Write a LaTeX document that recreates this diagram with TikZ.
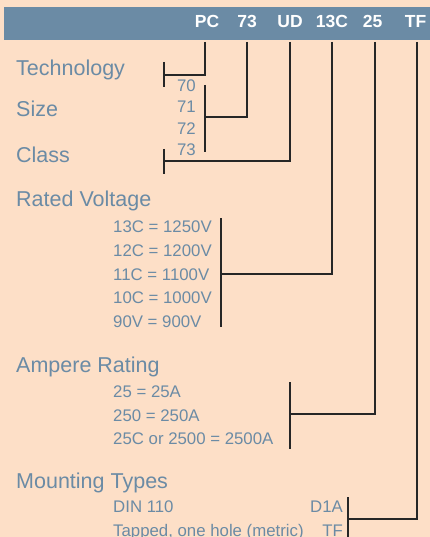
\documentclass[tikz,border=0pt]{standalone}
\usepackage{fontspec}
\setmainfont{Liberation Sans}
\usetikzlibrary{positioning}
\definecolor{peach}{RGB}{253,223,199}
\definecolor{slate}{RGB}{107,139,165}
\tikzset{
	grouptxt/.style={anchor=base west, inner sep=0pt, text=slate, font=\fontsize{21.5}{24}\selectfont},
	itemtxt/.style={anchor=base west, inner sep=0pt, text=slate, font=\fontsize{16.8}{20}\selectfont},
	itemend/.style={itemtxt, anchor=base east},
	codetxt/.style={anchor=base, inner sep=0pt, text=white, font=\bfseries\fontsize{17.5}{20}\selectfont},
	wire/.style={line width=1.3pt, draw=black!85},
}
\begin{document}
\begin{tikzpicture}[x=1pt, y=-1pt]
	\fill[peach] (0,0) rectangle (430,537);
	\useasboundingbox (0,0) rectangle (430,537);
	\fill[slate] (4,7) rectangle (430,40);
	% part number codes
	\node[codetxt] (pc) at (207,28) {PC};
	\node[codetxt] (sz) at (247,28) {73};
	\node[codetxt] (ud) at (290,28) {UD};
	\node[codetxt] (rv) at (332,28) {13C};
	\node[codetxt] (ar) at (372.5,28) {25};
	\node[codetxt] (mt) at (415.5,28) {TF};
	% groups
	\node[grouptxt] (tech) at (16,76) {Technology};
	\node[grouptxt] (size) at (16,117) {Size};
	\node[grouptxt] (class) at (16,163) {Class};
	\node[grouptxt] (volt) at (16,207) {Rated Voltage};
	\node[grouptxt] (amp) at (16,372) {Ampere Rating};
	\node[grouptxt] (mount) at (16,488) {Mounting Types};
	% items
	\node[itemend] (s70) at (196,92) {70};
	\node[itemend] (s71) at (196,113) {71};
	\node[itemend] (s72) at (196,135) {72};
	\node[itemend] (s73) at (196,156) {73};
	\node[itemtxt] (v13) at (113,232) {13C = 1250V};
	\node[itemtxt] (v12) at (113,256) {12C = 1200V};
	\node[itemtxt] (v11) at (113,280) {11C = 1100V};
	\node[itemtxt] (v10) at (113,303) {10C = 1000V};
	\node[itemtxt] (v90) at (113,327) {90V = 900V};
	\node[itemtxt] (a25) at (113,397) {25 = 25A};
	\node[itemtxt] (a250) at (113,421) {250 = 250A};
	\node[itemtxt] (a2500) at (113,444) {25C or 2500 = 2500A};
	\node[itemtxt] (din) at (113,512) {DIN 110};
	\node[itemend] (d1a) at (343,512) {D1A};
	\node[itemtxt] (tap) at (113,536) {Tapped, one hole (metric)};
	\node[itemend] (tf) at (343,536) {TF};
	% bracket ends and junctions
	\coordinate (pc in) at (205,42);  \coordinate (tech j) at (164,75);
	\coordinate (tech a) at (164,62); \coordinate (tech b) at (164,87);
	\coordinate (sz in) at (247,42);  \coordinate (size j) at (205,117);
	\coordinate (size a) at (205,85); \coordinate (size b) at (205,152);
	\coordinate (ud in) at (290,42);  \coordinate (class j) at (164,161);
	\coordinate (class a) at (164,149); \coordinate (class b) at (164,174);
	\coordinate (rv in) at (332,42);  \coordinate (volt j) at (221,274);
	\coordinate (volt a) at (221,218); \coordinate (volt b) at (221,327);
	\coordinate (ar in) at (375,42);  \coordinate (amp j) at (290,414);
	\coordinate (amp a) at (290,382); \coordinate (amp b) at (290,449);
	\coordinate (mt in) at (417,42);  \coordinate (mount j) at (348,519);
	\coordinate (mount a) at (348,497); \coordinate (mount b) at (348,540);
	% connectors
	\draw[wire] (tech a) -- (tech b);   \draw[wire] (pc in) |- (tech j);
	\draw[wire] (size a) -- (size b);   \draw[wire] (sz in) |- (size j);
	\draw[wire] (class a) -- (class b); \draw[wire] (ud in) |- (class j);
	\draw[wire] (volt a) -- (volt b);   \draw[wire] (rv in) |- (volt j);
	\draw[wire] (amp a) -- (amp b);     \draw[wire] (ar in) |- (amp j);
	\draw[wire] (mount a) -- (mount b); \draw[wire] (mt in) |- (mount j);
\end{tikzpicture}
\end{document}
